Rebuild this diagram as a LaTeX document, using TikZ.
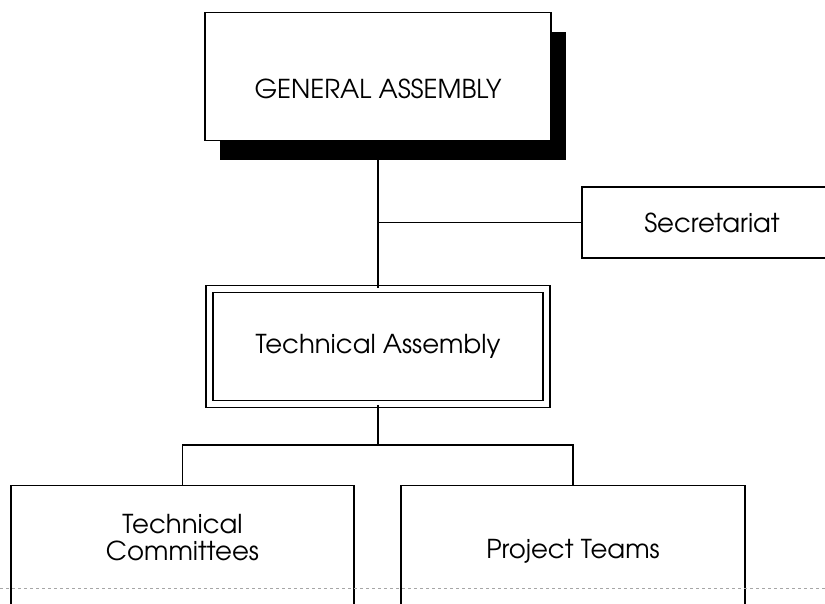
\documentclass[tikz,border=0pt]{standalone}
\usepackage{fontspec}
\setmainfont{texgyreadventor-regular.otf}
\usetikzlibrary{shadows}
\begin{document}
\begin{tikzpicture}[x=1pt,y=-1pt,line width=1.3pt,
  unit/.style={draw,fill=white,inner sep=0pt,font=\fontsize{26}{27}\selectfont},
  shadowed/.style={drop shadow={shadow xshift=15pt,shadow yshift=-19pt,fill=black,opacity=1}}]
\path[use as bounding box,clip] (0,0) rectangle (825,603);
\node (ga) [unit,shadowed,anchor=north,minimum width=346pt,text height=86pt,text depth=42pt,font=\fontsize{26}{28}\selectfont] at (378,12) {GENERAL ASSEMBLY};
\node (sec) [unit,minimum width=260pt,minimum height=71pt] at (712,222.5) {Secretariat};
\node (ta) [unit,double,double distance=5.8pt,minimum width=337pt,minimum height=115.5pt] at (378,346.5) {Technical Assembly};
\node (tc) [unit,anchor=north,align=center,minimum width=343pt,text height=75pt,text depth=100pt] at (182.5,485) {Technical\\Committees};
\node (pt) [unit,anchor=north,minimum width=344pt,text height=73pt,text depth=100pt] at (573,485) {Project Teams};
\coordinate (split) at (378,445);
\draw (ga) -- (ta);
\draw (sec) -- (sec -| ga);
\draw (ta) -- (split);
\draw (split) -| (tc);
\draw (split) -| (pt);
\draw[gray!70,dashed,line width=0.6pt] (0,588) -- (825,588);
\end{tikzpicture}
\end{document}
